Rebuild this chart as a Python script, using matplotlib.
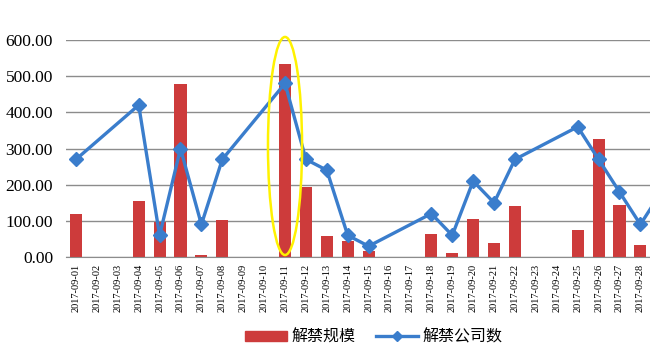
import numpy as np
import matplotlib
matplotlib.use('agg')
from matplotlib import pyplot as plt
from matplotlib.patches import Ellipse
from matplotlib.lines import Line2D
from matplotlib.patches import Patch

dates = [f'2017-09-{d:02d}' for d in range(1, 30)]

# 解禁规模 (bars)
scale = [120, 0, 0, 155, 97, 478, 5, 102, 0, 0,
         533, 194, 58, 44, 16, 0, 0, 63, 10, 106,
         38, 140, 0, 0, 75, 325, 143, 33, np.nan]

# 解禁公司数 (line), NaN on days without data
companies = [270, np.nan, np.nan, 420, 60, 300, 90, 270, np.nan, np.nan,
             480, 270, 240, 60, 30, np.nan, np.nan, 120, 60, 210,
             150, 270, np.nan, np.nan, 360, 270, 180, 90, 180]

BAR_COLOR = '#CD3B3B'
LINE_COLOR = '#3A7DCC'

plt.rcParams['font.family'] = ['Liberation Serif', 'Noto Sans CJK SC']

fig = plt.figure(figsize=(6.5, 3.56), dpi=100)
ax = fig.add_axes([0.1008, 0.278, 0.8992, 0.6096])

x = np.arange(len(dates))
ax.bar(x, scale, width=0.58, color=BAR_COLOR, zorder=2)

comp = np.array(companies, dtype=float)
ok = ~np.isnan(comp)
ax.plot(x[ok], comp[ok], color=LINE_COLOR, lw=2.4, marker='D', markersize=7.5,
        zorder=3, clip_on=True)

ax.set_ylim(0, 600)
ax.set_xlim(-0.5, 27.46)
ax.set_yticks(np.arange(0, 601, 100))
ax.set_yticklabels([f'{v:.2f}' for v in range(0, 601, 100)], fontsize=12.5)
ax.set_xticks(x[:28])
ax.set_xticklabels(dates[:28], rotation=90, fontsize=7.5)
ax.tick_params(length=0, pad=5)
ax.tick_params(axis='y', pad=9)

ax.yaxis.grid(True, color='#8c8c8c', lw=1)
ax.set_axisbelow(True)
for s in ['left', 'right', 'top']:
    ax.spines[s].set_visible(False)
ax.spines['bottom'].set_color('#8c8c8c')

# highlight the 09-11 peak
ell = Ellipse((10, 307), width=1.63, height=603, fill=False,
              edgecolor='#FFF200', lw=1.8, zorder=4, clip_on=False)
ax.add_patch(ell)

handles = [Patch(color=BAR_COLOR),
           Line2D([0], [0], color=LINE_COLOR, lw=2.4, marker='D', markersize=5)]
fig.legend(handles, ['解禁规模', '解禁公司数'], loc='center',
           bbox_to_anchor=(0.575, 0.053), ncol=2, frameon=False,
           prop={'family': ['Noto Sans CJK SC'], 'size': 11.5},
           handlelength=2.6, handleheight=0.6, columnspacing=1.3,
           handletextpad=0.3)

plt.savefig('out.png', dpi=100)
plt.close(fig)
